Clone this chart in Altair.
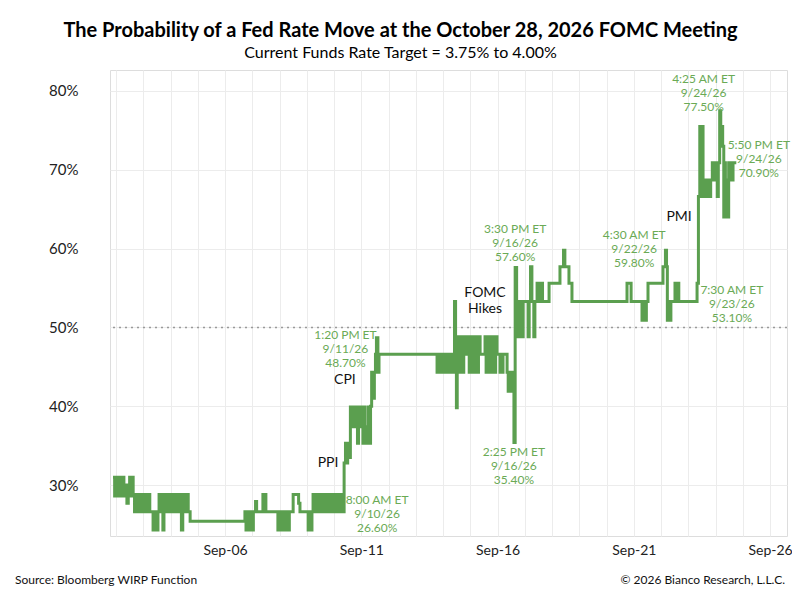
import altair as alt
import pandas as pd

# ---- data: fractional day of September 2026, probability (%) ----
days = [
    1.89, 1.95, 2.00, 2.05, 2.10, 2.14, 2.19, 2.24, 2.29, 2.34, 2.40, 2.45, 2.50, 2.55, 2.59,
    2.63, 2.68, 2.78, 2.83, 2.88, 2.93, 2.98, 3.03, 3.08, 3.13, 3.18, 3.24, 3.36, 3.42, 3.48,
    3.54, 3.58, 3.63, 3.68, 3.72, 3.76, 3.82, 3.87, 3.93, 3.98, 4.03, 4.08, 4.13, 4.18, 4.24,
    4.29, 4.34, 4.40, 4.45, 4.50, 4.55, 4.60, 4.65, 4.72,
    6.73, 6.77, 6.81, 6.85, 6.89, 6.93, 6.97, 7.01, 7.04, 7.12, 7.16, 7.39, 7.50, 7.94, 7.99,
    8.07, 8.13, 8.18, 8.24, 8.30, 8.36, 8.50, 8.70, 8.75, 9.05, 9.10, 9.14, 9.19, 9.23, 9.28,
    9.32, 9.36, 9.40, 9.44, 9.48, 9.53, 9.58, 9.62, 9.67, 9.71, 9.76, 9.80, 9.85, 9.89, 9.94,
    9.98, 10.03, 10.07, 10.12, 10.16, 10.21, 10.25, 10.30, 10.333,
    10.37, 10.42, 10.46, 10.50, 10.55, 10.60, 10.70, 10.75, 10.86, 10.90, 10.95, 11.00, 11.06,
    11.10, 11.14, 11.18, 11.22, 11.26, 11.30, 11.34, 11.38, 11.44, 11.48, 11.52, 11.556, 11.61,
    11.65,
    13.78, 13.82, 13.87, 13.92, 13.97, 14.02, 14.07, 14.12, 14.17, 14.22, 14.27, 14.32, 14.37,
    14.42, 14.46, 14.49, 14.52, 14.56, 14.60, 14.64, 14.68, 14.72, 14.76, 14.81, 14.92, 14.96,
    15.00, 15.05, 15.10, 15.15, 15.20, 15.25, 15.30, 15.36, 15.54, 15.58, 15.63, 15.68, 15.73,
    15.78, 15.83, 15.88, 15.93, 15.98, 16.09, 16.20, 16.35, 16.39, 16.43, 16.47, 16.51, 16.56,
    16.601, 16.646, 16.70, 16.74, 16.78, 16.82, 16.86, 16.90, 16.94, 17.12, 17.16, 17.21, 17.26,
    17.33, 17.37, 17.45, 17.49, 17.53, 17.57, 17.61, 17.65, 17.89, 18.29, 18.42, 18.47, 18.62,
    18.73,
    20.75, 20.90, 21.30, 21.35, 21.40, 21.46, 21.52, 22.07, 22.16, 22.20, 22.23, 22.27, 22.31,
    22.36, 22.51, 22.55, 22.60, 22.65, 22.70,
    23.32, 23.37, 23.42, 23.46, 23.50, 23.54, 23.58, 23.62, 23.66, 23.70, 23.76, 23.82, 23.88,
    23.96, 24.00, 24.06, 24.10, 24.15, 24.19, 24.26, 24.30, 24.33, 24.36, 24.40, 24.44, 24.48,
    24.54, 24.64, 24.76,
]
probs = [
    31.0, 28.6, 31.0, 28.6, 30.0, 31.0, 28.6, 31.0, 28.6, 30.0, 27.7, 28.6, 31.0, 28.6, 31.0,
    28.8, 26.6, 28.8, 26.6, 28.8, 26.6, 28.8, 26.6, 28.8, 26.6, 28.8, 26.6, 24.3, 26.6, 24.3,
    26.6, 28.8, 26.6, 28.8, 24.3, 26.6, 28.8, 26.6, 28.8, 26.6, 28.8, 26.6, 28.8, 26.6, 28.8,
    26.6, 28.8, 24.3, 26.6, 28.8, 26.6, 28.8, 26.6, 25.4,
    26.6, 24.3, 26.6, 24.3, 26.6, 24.3, 26.6, 24.3, 26.6, 27.9, 26.6, 28.8, 26.6, 24.3, 26.6,
    24.3, 26.6, 24.3, 26.6, 24.3, 26.6, 28.8, 27.7, 26.6, 24.3, 26.6, 24.3, 26.6, 28.8, 26.6,
    28.8, 26.6, 28.8, 26.6, 28.8, 26.6, 28.8, 26.6, 28.8, 26.6, 28.8, 26.6, 28.8, 26.6, 28.8,
    26.6, 28.8, 26.6, 28.8, 26.6, 28.8, 26.6, 28.8, 26.6,
    32.8, 35.3, 32.8, 35.3, 33.5, 39.9, 37.4, 39.9, 35.3, 39.9, 37.4, 39.9, 35.3,
    39.9, 35.3, 37.4, 35.3, 39.9, 35.3, 40.0, 44.3, 41.0, 44.3, 46.6, 48.7, 44.3,
    46.6,
    44.3, 46.6, 44.3, 46.6, 44.3, 46.6, 44.3, 46.6, 44.3, 46.6, 44.3, 46.6, 44.3,
    53.3, 44.3, 39.8, 48.8, 44.3, 48.8, 44.3, 48.8, 44.3, 48.8, 46.6, 48.8, 44.3,
    48.8, 44.3, 48.8, 44.3, 48.8, 44.3, 48.8, 46.6, 48.8, 44.3, 48.8, 44.3, 48.8,
    44.3, 48.8, 44.3, 48.8, 46.6, 44.3, 46.6, 44.3, 41.9, 44.3, 41.9, 44.3, 41.9,
    35.4, 57.6, 53.3, 48.8, 53.3, 48.8, 53.3, 48.8, 53.3, 48.8, 53.3, 57.7, 53.3,
    48.8, 53.3, 55.6, 53.3, 55.6, 53.3, 55.6, 53.3, 55.6, 57.7, 59.8, 57.7, 55.6,
    53.3,
    55.6, 53.3, 50.9, 53.3, 50.9, 53.3, 55.6, 57.7, 59.8, 57.7, 50.9, 53.3, 50.9,
    53.3, 55.6, 53.3, 55.6, 53.3, 53.3,
    55.6, 66.6, 75.5, 66.6, 75.5, 68.7, 66.6, 68.7, 66.6, 68.7, 66.6, 68.7, 70.9,
    68.7, 70.9, 66.6, 70.9, 77.5, 75.5, 73.0, 64.0, 70.9, 64.0, 68.7, 64.0, 70.9,
    68.7, 70.9, 70.9,
]

# annotated points
ann_days = [10.333, 11.556, 16.601, 16.646, 22.1875, 23.3125, 24.184, 24.743]
ann_probs = [26.6, 48.7, 35.4, 57.6, 59.8, 53.1, 77.5, 70.9]
ann_labels = [
    "8:00 AM ET\n9/10/26\n26.60%",
    "1:20 PM ET\n9/11/26\n48.70%",
    "2:25 PM ET\n9/16/26\n35.40%",
    "3:30 PM ET\n9/16/26\n57.60%",
    "4:30 AM ET\n9/22/26\n59.80%",
    "7:30 AM ET\n9/23/26\n53.10%",
    "4:25 AM ET\n9/24/26\n77.50%",
    "5:50 PM ET\n9/24/26\n70.90%",
]
# text offsets (px) for each annotation (first line position)
ann_dx = [34, -31, 0, 0, -32, 35, -17, 23]
ann_dy = [-12, -3, 10, -38, -15, -13, -32, -18]

# event labels (first-line anchor)
event_names = ["PPI", "CPI", "FOMC\nHikes", "PMI"]
event_days = [9.78, 10.40, 15.54, 22.66]
event_probs = [32.8, 43.3, 54.4, 64.0]

y_ticks = [30, 40, 50, 60, 70, 80]
x_grid_days = list(range(2, 27))

GREEN = "#5b9f4f"
TEXT_GREEN = "#6aaa55"
FONT = "Lato"


def to_time(d):
    return (pd.Timestamp("2026-09-01") + pd.Timedelta(days=d - 1)).strftime("%Y-%m-%dT%H:%M:%S")


df = pd.DataFrame({"t": [to_time(d) for d in days], "p": probs})

x_scale = alt.Scale(
    domain=[alt.DateTime(year=2026, month=9, date=1, hours=18, minutes=43),
            alt.DateTime(year=2026, month=9, date=26, hours=14, minutes=53)]
)
y_scale = alt.Scale(domain=[23.53, 82.66], nice=False, zero=False)

x_axis = alt.Axis(
    values=[alt.DateTime(year=2026, month=9, date=d) for d in x_grid_days],
    labelExpr="date(datum.value) % 5 == 1 ? timeFormat(datum.value, '%b-%d') : ''",
    title=None, ticks=False, domain=False, grid=True, gridColor="#ececec",
    labelFont=FONT, labelFontSize=14, labelColor="#222", labelPadding=7,
    labelOverlap=False, labelFlush=False,
)
y_axis = alt.Axis(
    values=y_ticks, labelExpr="datum.value + '%'", title=None, ticks=False,
    domain=False, grid=True, gridColor="#ececec", labelFont=FONT,
    labelFontSize=15, labelColor="#222", labelPadding=32,
)


def X(field="t:T"):
    return alt.X(field, scale=x_scale, axis=x_axis)


def Y(field="p:Q"):
    return alt.Y(field, scale=y_scale, axis=y_axis)


line = alt.Chart(df).mark_line(interpolate="step-after", color=GREEN, strokeWidth=3).encode(
    x=X(), y=Y(),
)

rule = alt.Chart(pd.DataFrame({"y": [50]})).mark_rule(
    color="#999", strokeDash=[2, 4], strokeWidth=1.5
).encode(y=Y("y:Q"))

layers = [rule, line]

for d, p, lab, dx, dy in zip(ann_days, ann_probs, ann_labels, ann_dx, ann_dy):
    adf = pd.DataFrame({"t": [to_time(d)], "p": [p], "label": [lab]})
    layers.append(
        alt.Chart(adf).mark_text(
            lineBreak="\n", align="center", baseline="middle", dx=dx, dy=dy,
            font=FONT, fontSize=12, lineHeight=14, color=TEXT_GREEN,
        ).encode(x=X(), y=Y(), text="label:N")
    )

edf = pd.DataFrame({"t": [to_time(d) for d in event_days], "p": event_probs, "name": event_names})
layers.append(
    alt.Chart(edf).mark_text(
        lineBreak="\n", align="center", baseline="middle", font=FONT, fontSize=14,
        lineHeight=16, color="#111",
    ).encode(x=X(), y=Y(), text="name:N")
)

foot = pd.DataFrame({"a": [0]})
layers.append(
    alt.Chart(foot).mark_text(align="left", baseline="middle", font=FONT, fontSize=12, color="#111")
    .encode(x=alt.value(-95), y=alt.value(510), text=alt.value("Source: Bloomberg WIRP Function"))
)
layers.append(
    alt.Chart(foot).mark_text(align="right", baseline="middle", font=FONT, fontSize=12, color="#111")
    .encode(x=alt.value(675), y=alt.value(510), text=alt.value("© 2026 Bianco Research, L.L.C."))
)

chart = alt.layer(*layers).properties(
    width=677, height=466,
    autosize=alt.AutoSizeParams(type="none"),
    padding={"left": 102, "top": 62, "right": 5, "bottom": 60},
    title=alt.TitleParams(
        text="The Probability of a Fed Rate Move at the October 28, 2026 FOMC Meeting",
        subtitle="Current Funds Rate Target = 3.75% to 4.00%",
        anchor="middle", frame="group", dx=-48, offset=9,
        font=FONT, fontSize=20, fontWeight="bold", color="#000",
        subtitleFont=FONT, subtitleFontSize=16, subtitleColor="#000", subtitlePadding=4,
    ),
).configure_view(stroke=None).configure(background="white")

chart.save("out.html", embed_options={"renderer": "svg", "actions": False})
